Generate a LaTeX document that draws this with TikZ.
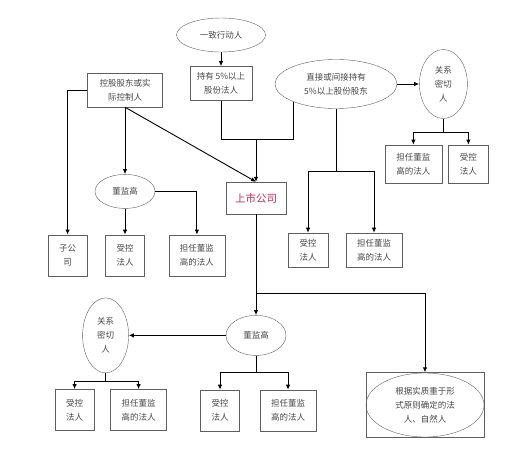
\documentclass[tikz,border=0pt]{standalone}
\usepackage{fontspec}
\newfontfamily\cjk{Noto Sans CJK SC}
\usepackage{xcolor}
\usepackage{tikz}
\usetikzlibrary{shapes.geometric, positioning, arrows.meta, calc}
\definecolor{boxgray}{RGB}{95,95,95}
\definecolor{txtgray}{RGB}{70,70,70}
\definecolor{listedred}{RGB}{185,45,80}

\begin{document}
\begin{tikzpicture}[
        x=1pt, y=-1pt,
        box/.style={draw=boxgray, rectangle, inner sep=0pt, align=center, text=txtgray, font=\cjk\fontsize{8.5}{14}\selectfont},
        oval/.style={draw=boxgray, ellipse, inner sep=0pt, align=center, text=txtgray, font=\cjk\fontsize{8.5}{14}\selectfont},
        line/.style={line width=0.9pt},
        arr/.style={-{Latex[length=5pt,width=4.5pt]}, line width=0.9pt}
    ]
    \useasboundingbox (0,0) rectangle (525,461);

    % Top group
    \node[oval, minimum width=89pt, minimum height=34pt] (act) at (221,35) {一致行动人};
    \node[box, minimum width=62pt, minimum height=34pt] (hold) [below=14pt of act] {持有 5\%以上\\股份法人};
    \node[oval, minimum width=122pt, minimum height=49pt] (share) at (336,84) {直接或间接持有\\5\%以上股份股东};
    \node[oval, minimum width=48pt, minimum height=69pt] (closeA) [right=22pt of share] {关系\\密切\\人};
    \node[box, minimum width=57pt, minimum height=38pt] (dirA) [below=26pt of closeA, xshift=-30pt] {担任董监\\高的法人};
    \node[box, minimum width=40pt, minimum height=38pt] (ctrlA) [below=26pt of closeA, xshift=25pt] {受控\\法人};
    \node[box, minimum width=40pt, minimum height=34pt] (ctrlB) [below=124pt of share, xshift=-28pt] {受控\\法人};
    \node[box, minimum width=56pt, minimum height=34pt] (dirB) [below=124pt of share, xshift=38pt] {担任董监\\高的法人};

    % Left group
    \node[box, minimum width=75pt, minimum height=34pt] (holder) at (125,90) {控股股东或实\\际控制人};
    \node[oval, minimum width=60pt, minimum height=34pt] (boardA) [below=67pt of holder] {董监高};
    \node[box, minimum width=39pt, minimum height=41pt] (ctrlC) [below=26pt of boardA] {受控\\法人};
    \node[box, minimum width=39pt, minimum height=41pt] (sub) [left=18pt of ctrlC] {子公\\司};
    \node[box, minimum width=56pt, minimum height=41pt] (dirC) [right=24pt of ctrlC] {担任董监\\高的法人};

    % Listed company
    \node[box, minimum width=60pt, minimum height=32pt, text=listedred, font=\cjk\fontsize{10.5}{12}\selectfont] (listed) at (256,198) {上市公司};

    % Bottom group
    \node[oval, minimum width=60pt, minimum height=40pt] (boardB) [below=101pt of listed] {董监高};
    \node[oval, minimum width=46pt, minimum height=75pt] (closeB) [left=97pt of boardB] {关系\\密切\\人};
    \node[box, minimum width=39pt, minimum height=41pt] (ctrlD) [below=16pt of closeB, xshift=-31pt] {受控\\法人};
    \node[box, minimum width=56pt, minimum height=41pt] (dirD) [below=16pt of closeB, xshift=33pt] {担任董监\\高的法人};
    \node[box, minimum width=39pt, minimum height=41pt] (ctrlE) [below=34pt of boardB, xshift=-36pt] {受控\\法人};
    \node[box, minimum width=56pt, minimum height=41pt] (dirE) [below=34pt of boardB, xshift=32pt] {担任董监\\高的法人};
    \node[box, minimum width=118pt, minimum height=65pt] (other) at (425,405) {根据实质重于形\\式原则确定的法\\人、自然人};
    \draw[draw=boxgray] (other.center) ellipse [x radius=59pt, y radius=32pt];

    % Join points
    \coordinate (join) at ($(listed.north)+(0,-42)$);
    \coordinate (splitA) at ($(closeA.south)+(0,13.5)$);
    \coordinate (splitS) at ($(share.south)+(0,62.5)$);
    \coordinate (splitL) at ($(listed.south)+(0,79)$);
    \coordinate (splitC) at ($(closeB.south)+(0,8.5)$);
    \coordinate (splitB) at ($(boardB.south)+(0,17)$);

    % Arrows
    \draw[arr] (act) -- (hold);
    \draw[line] (hold.south) |- (join);
    \draw[line] (share.203) |- (join);
    \draw[arr] (join) -- (listed.north);
    \draw[arr] (share) -- (closeA);
    \draw[arr] (closeA.south) -- (splitA) -| (dirA.north);
    \draw[arr] (splitA) -| (ctrlA.north);
    \draw[arr] (share.south) -- (splitS) -| (ctrlB.north);
    \draw[arr] (splitS) -| (dirB.north);

    \draw[arr] (holder.west) -| (sub.north);
    \draw[arr] (holder) -- (boardA);
    \draw[arr] (holder.south) -- (listed.north);
    \draw[arr] (boardA) -- (ctrlC);
    \draw[arr] (boardA.east) -| (dirC.north);

    \draw[arr] (listed) -- (boardB);
    \draw[arr] (splitL) -| (other.north);
    \draw[arr] (boardB) -- (closeB);
    \draw[arr] (closeB.south) -- (splitC) -| (ctrlD.north);
    \draw[arr] (splitC) -| (dirD.north);
    \draw[arr] (boardB.south) -- (splitB) -| (ctrlE.north);
    \draw[arr] (splitB) -| (dirE.north);

\end{tikzpicture}
\end{document}
